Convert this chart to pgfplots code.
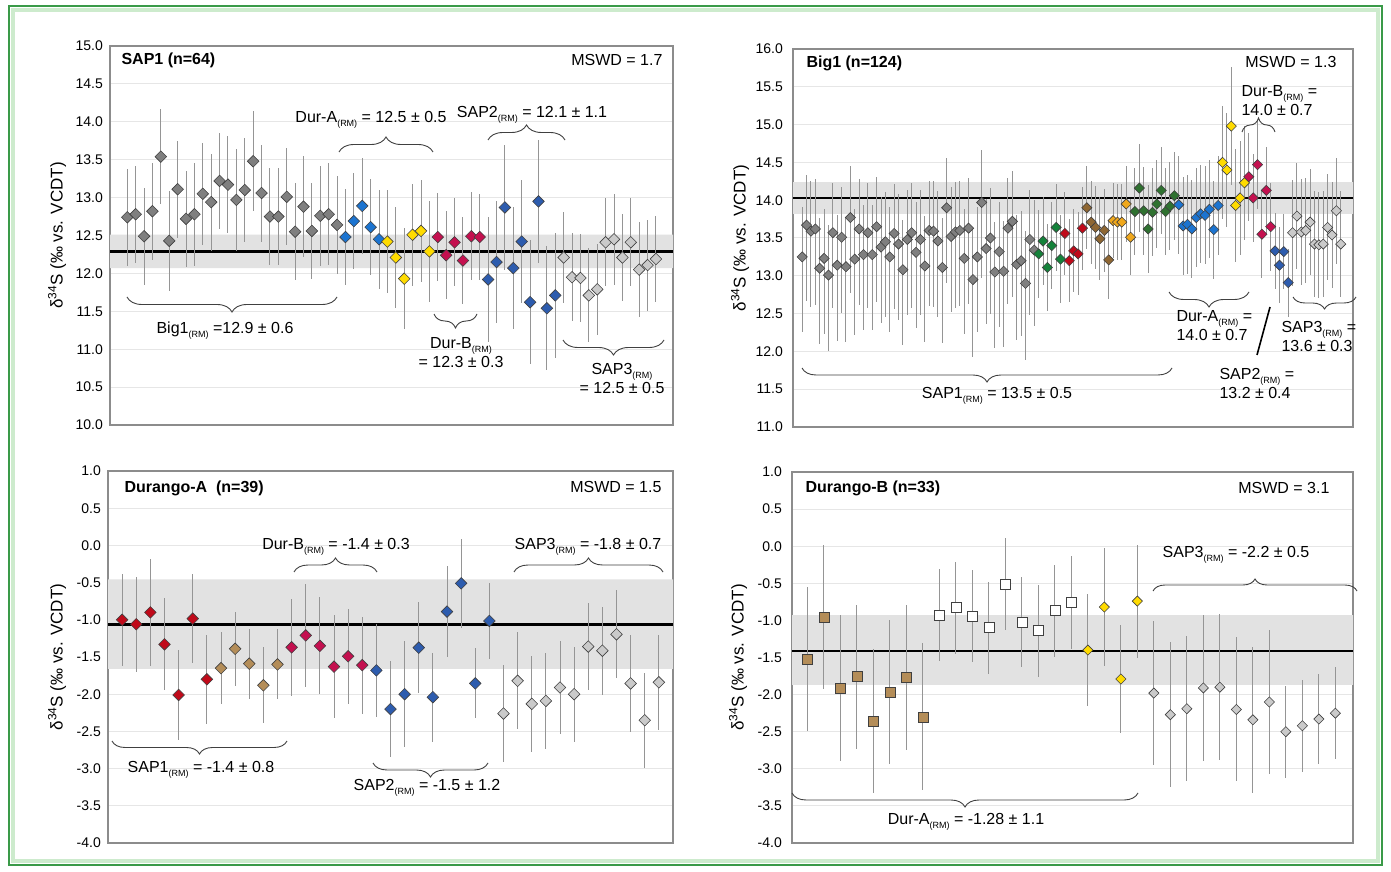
\documentclass[border=0pt]{standalone}
\usepackage{fontspec}
\setmainfont{Liberation Sans}
\usepackage{pgfplots}
\usepackage{pgfplotstable}
\pgfplotsset{compat=1.18}
\usetikzlibrary{decorations.pathreplacing}

\definecolor{cgray}{HTML}{7F7F7F}
\definecolor{cblue}{HTML}{1C74D0}
\definecolor{cyellow}{HTML}{FFDB00}
\definecolor{ccrimson}{HTML}{C4104F}
\definecolor{cdblue}{HTML}{2D5CAE}
\definecolor{clgray}{HTML}{CACACA}
\definecolor{cgreen}{HTML}{14823A}
\definecolor{cgreen2}{HTML}{2F7130}
\definecolor{cred}{HTML}{C00A1A}
\definecolor{cbrown}{HTML}{8E6632}
\definecolor{corange}{HTML}{F0A81C}
\definecolor{ctan}{HTML}{B48D58}
\definecolor{barc}{HTML}{959595}
\definecolor{bandc}{HTML}{E2E2E2}
\definecolor{gridc}{HTML}{E6E6E6}
\definecolor{boxc}{HTML}{8C8C8C}
\definecolor{framec}{HTML}{3A9A48}
\definecolor{framel}{HTML}{CDEBCD}
\definecolor{outc}{HTML}{404040}

\newcommand{\RM}{\raisebox{-4pt}{\fontsize{9}{9}\selectfont(RM)}}
\newcommand{\af}{\fontsize{16}{19}\selectfont}
\newcommand{\ebars}[1]{\addplot[only marks, mark=none, forget plot, error bars/.cd, y dir=both, y explicit, error mark=none, error bar style={draw=barc, line width=1pt}] table[x=x,y=y,y error=e]{#1};}
\newcommand{\dmk}[3]{\addplot[only marks, mark=square*, mark size=#3, mark options={rotate=45, fill=#2, draw=outc, line width=0.6pt}, forget plot] table[x=x,y=y]{#1};}
\newcommand{\smk}[3]{\addplot[only marks, mark=square*, mark size=#3, mark options={fill=#2, draw=outc, line width=0.7pt}, forget plot] table[x=x,y=y]{#1};}

\tikzset{brc/.style={decorate, decoration={brace, amplitude=#1}, draw=outc, line width=0.9pt}}

\pgfplotsset{
  panel/.style={
    scale only axis, anchor=south west,
    xtick=\empty,
    ymajorgrids, grid style={draw=gridc, line width=1pt},
    axis line style={draw=boxc, line width=1.1pt},
    major tick length=0pt,
    tick label style={font=\fontsize{14}{14}\selectfont, text=black},
    yticklabel style={/pgf/number format/fixed, /pgf/number format/fixed zerofill, /pgf/number format/precision=1, /pgf/number format/assume math mode=true, inner sep=0pt, xshift=-7pt},
    ylabel={δ\textsuperscript{34}S (‰ vs. VCDT)},
    ylabel style={font=\fontsize{17}{17}\selectfont, anchor=center},
  },
}

% ---------------- Panel A: SAP1 ----------------
\pgfplotstableread{
x y e
1 12.74 0.64
2 12.78 0.64
3 12.49 0.64
4 12.82 0.64
5 13.54 0.63
6 12.43 0.66
7 13.11 0.64
8 12.72 0.63
9 12.78 0.68
10 13.05 0.67
11 12.94 0.64
12 13.22 0.63
13 13.17 0.64
14 12.97 0.67
15 13.10 0.68
16 13.48 0.66
17 13.06 0.64
18 12.75 0.64
19 12.75 0.64
20 13.01 0.64
21 12.55 0.64
22 12.88 0.67
23 12.56 0.63
24 12.76 0.66
25 12.78 0.67
26 12.64 0.65
}\pAgray
\pgfplotstableread{
x y e
27 12.48 0.63
28 12.69 0.63
29 12.89 0.63
30 12.61 0.63
31 12.45 0.65
}\pAblue
\pgfplotstableread{
x y e
32 12.42 0.68
33 12.21 0.67
34 11.93 0.67
35 12.51 0.67
36 12.56 0.67
37 12.29 0.67
}\pAyellow
\pgfplotstableread{
x y e
38 12.48 0.575
39 12.24 0.58
40 12.41 0.58
41 12.17 0.57
42 12.49 0.58
43 12.48 0.57
}\pAcrimson
\pgfplotstableread{
x y e
44 11.92 0.82
45 12.15 0.80
46 12.87 0.82
47 12.07 0.80
48 12.42 0.81
49 11.62 0.82
50 12.95 0.81
51 11.54 0.82
52 11.71 0.82
}\pAdblue
\pgfplotstableread{
x y e
53 12.21 0.60
54 11.95 0.58
55 11.94 0.58
56 11.71 0.62
57 11.79 0.60
58 12.41 0.58
59 12.45 0.60
60 12.21 0.57
61 12.41 0.58
62 12.05 0.63
63 12.11 0.60
64 12.19 0.57
}\pAlgray

% ---------------- Panel B: Big1 ----------------
\pgfplotstableread{
x y ep em
1 13.25 0.66 1.0
2 13.67 0.66 1.0
3 13.59 0.66 1.0
4 13.62 0.66 1.0
5 13.10 0.66 1.0
6 13.23 0.66 1.0
7 13.01 0.66 1.0
8 13.57 0.66 1.0
9 13.14 0.66 1.0
10 13.51 0.66 1.0
11 13.12 0.66 1.0
12 13.77 0.68 1.0
13 13.22 0.66 1.0
14 13.62 0.66 1.0
15 13.28 0.66 1.0
16 13.57 0.66 1.0
17 13.28 0.66 1.0
18 13.65 0.66 1.0
19 13.38 0.66 1.0
20 13.45 0.66 1.0
21 13.25 0.66 1.0
22 13.56 0.66 1.0
23 13.42 0.66 1.0
24 13.08 0.66 1.0
25 13.48 0.66 1.0
26 13.57 0.66 1.0
27 13.31 0.66 1.0
28 13.48 0.66 1.0
29 13.13 0.66 1.0
30 13.60 0.66 1.0
31 13.59 0.66 1.0
32 13.46 0.66 1.0
33 13.11 0.66 1.0
34 13.90 0.66 1.0
35 13.52 0.66 1.0
36 13.58 0.66 1.0
37 13.60 0.66 1.0
38 13.23 0.66 1.0
39 13.63 0.66 1.0
40 12.95 0.68 1.02
41 13.25 0.66 1.0
42 13.97 0.69 1.0
43 13.36 0.66 1.0
44 13.50 0.66 1.0
45 13.05 0.66 1.0
46 13.32 0.66 1.0
47 13.06 0.66 1.0
48 13.63 0.66 1.0
49 13.72 0.66 1.0
50 13.15 0.66 1.0
51 13.20 0.66 1.0
52 12.90 0.69 1.02
53 13.48 0.66 1.0
54 13.34 0.66 1.0
}\pBgray
\pgfplotstableread{
x y e
55 13.29 0.58
56 13.46 0.58
57 13.11 0.58
58 13.40 0.58
59 13.64 0.58
60 13.22 0.58
}\pBgreen
\pgfplotstableread{
x y e
61 13.56 0.55
62 13.20 0.55
63 13.33 0.55
64 13.29 0.55
65 13.63 0.55
}\pBred
\pgfplotstableread{
x y e
66 13.90 0.55
67 13.71 0.55
68 13.64 0.55
69 13.49 0.55
70 13.60 0.55
71 13.21 0.52
}\pBbrown
\pgfplotstableread{
x y e
72 13.73 0.50
73 13.71 0.50
74 13.71 0.50
75 13.95 0.50
76 13.51 0.50
}\pBorange
\pgfplotstableread{
x y e
77 13.85 0.58
78 14.16 0.58
79 13.86 0.58
80 13.62 0.58
81 13.84 0.58
82 13.95 0.58
83 14.13 0.58
84 13.85 0.58
85 13.92 0.58
86 14.06 0.58
}\pBgreentwo
\pgfplotstableread{
x y e
87 13.94 0.65
88 13.66 0.65
89 13.68 0.65
90 13.62 0.65
91 13.77 0.65
92 13.82 0.65
93 13.80 0.65
94 13.88 0.65
95 13.61 0.65
96 13.93 0.65
}\pBblue
\pgfplotstableread{
x y e
97 14.50 0.75
98 14.40 0.75
99 14.98 0.78
100 13.93 0.75
101 14.03 0.75
102 14.23 0.75
}\pByellow
\pgfplotstableread{
x y e
103 14.31 0.58
104 14.03 0.58
105 14.47 0.58
106 13.55 0.58
107 14.13 0.58
108 13.65 0.58
}\pBcrimson
\pgfplotstableread{
x y e
109 13.33 0.50
110 13.14 0.50
111 13.32 0.50
112 12.91 0.45
}\pBdblue
\pgfplotstableread{
x y e
113 13.57 0.70
114 13.79 0.70
115 13.58 0.70
116 13.60 0.70
117 13.71 0.70
118 13.42 0.70
119 13.41 0.70
120 13.42 0.70
121 13.64 0.70
122 13.54 0.70
123 13.86 0.70
124 13.42 0.70
}\pBlgray

% ---------------- Panel C: Durango-A ----------------
\pgfplotstableread{
x y e
1 -1.00 0.62
2 -1.06 0.64
3 -0.90 0.72
4 -1.33 0.62
5 -2.01 0.60
6 -0.985 0.60
7 -1.80 0.60
}\pCred
\pgfplotstableread{
x y e
8 -1.65 0.48
9 -1.39 0.50
10 -1.59 0.47
11 -1.88 0.51
12 -1.60 0.47
}\pCtan
\pgfplotstableread{
x y e
13 -1.37 0.65
14 -1.21 0.69
15 -1.35 0.65
16 -1.63 0.69
17 -1.49 0.64
18 -1.61 0.65
}\pCcrimson
\pgfplotstableread{
x y e
19 -1.68 0.62
20 -2.20 0.65
21 -2.00 0.71
22 -1.375 0.61
23 -2.04 0.60
24 -0.89 0.61
25 -0.51 0.60
26 -1.855 0.47
27 -1.015 0.51
}\pCblue
\pgfplotstableread{
x y e
28 -2.26 0.65
29 -1.82 0.65
30 -2.13 0.65
31 -2.09 0.64
32 -1.91 0.62
33 -2.00 0.64
34 -1.36 0.59
35 -1.415 0.59
36 -1.195 0.59
37 -1.855 0.65
38 -2.35 0.64
39 -1.84 0.64
}\pClgray

% ---------------- Panel D: Durango-B ----------------
\pgfplotstableread{
x y e
1 -1.52 0.97
2 -0.96 0.97
3 -1.91 0.98
4 -1.76 0.97
5 -2.36 0.97
6 -1.97 0.97
7 -1.77 0.98
8 -2.30 0.99
}\pDtan
\pgfplotstableread{
x y e
9 -0.93 0.62
10 -0.83 0.62
11 -0.94 0.62
12 -1.10 0.62
13 -0.51 0.62
14 -1.02 0.61
15 -1.14 0.62
16 -0.87 0.62
17 -0.76 0.63
}\pDwhite
\pgfplotstableread{
x y e
18 -1.40 0.75
19 -0.82 0.80
20 -1.79 0.73
21 -0.74 0.76
}\pDyellow
\pgfplotstableread{
x y e
22 -1.98 0.97
23 -2.27 0.98
24 -2.19 0.98
25 -1.91 0.98
26 -1.90 0.98
27 -2.20 0.97
28 -2.34 0.98
29 -2.10 0.97
30 -2.50 0.62
31 -2.42 0.62
32 -2.33 0.61
33 -2.25 0.62
}\pDlgray

\begin{document}
\begin{tikzpicture}[x=1pt,y=1pt]
\useasboundingbox (0,0) rectangle (1391,871);
\fill[white] (0,0) rectangle (1391,871);
\draw[draw=framel, line width=4pt] (13,10) rectangle (1378,861);
\draw[draw=framec, line width=2.2pt] (9,6) rectangle (1382,865);

% ===== Panel A =====
\begin{axis}[panel, at={(110pt,446pt)}, width=563pt, height=379pt,
  xmin=-1.06, xmax=66.03, ymin=10, ymax=15,
  ytick={10,10.5,11,11.5,12,12.5,13,13.5,14,14.5,15},
  ylabel style={at={(axis description cs:-0.094,0.5)}}]
\addplot[fill=bandc, draw=none, forget plot] coordinates {(-1.06,12.07) (66.03,12.07) (66.03,12.51) (-1.06,12.51) (-1.06,12.07)};
\addplot[black, line width=2.6pt, forget plot] coordinates {(-1.06,12.29) (66.03,12.29)};
\ebars\pAgray \ebars\pAblue \ebars\pAyellow \ebars\pAcrimson \ebars\pAdblue \ebars\pAlgray
\dmk\pAgray{cgray}{4.1}
\dmk\pAblue{cblue}{4.1}
\dmk\pAyellow{cyellow}{4.1}
\dmk\pAcrimson{ccrimson}{4.1}
\dmk\pAdblue{cdblue}{4.1}
\dmk\pAlgray{clgray}{4.1}
\end{axis}

% ===== Panel B =====
\begin{axis}[panel, at={(793pt,444pt)}, width=560pt, height=378pt,
  xmin=-1.1, xmax=126.8, ymin=11, ymax=16,
  ytick={11,11.5,12,12.5,13,13.5,14,14.5,15,15.5,16},
  yticklabel style={xshift=-3pt},
  ylabel style={at={(axis description cs:-0.0946,0.5)}}]
\addplot[fill=bandc, draw=none, forget plot] coordinates {(-1.1,13.82) (126.8,13.82) (126.8,14.24) (-1.1,14.24) (-1.1,13.82)};
\addplot[black, line width=2.6pt, forget plot] coordinates {(-1.1,14.03) (126.8,14.03)};
\addplot[only marks, mark=none, forget plot, error bars/.cd, y dir=both, y explicit, error mark=none, error bar style={draw=barc, line width=1pt}] table[x=x,y=y,y error plus=ep,y error minus=em]{\pBgray};
\ebars\pBgreen \ebars\pBred \ebars\pBbrown \ebars\pBorange \ebars\pBgreentwo \ebars\pBblue \ebars\pByellow \ebars\pBcrimson \ebars\pBdblue \ebars\pBlgray
\dmk\pBgray{cgray}{3.6}
\dmk\pBgreen{cgreen}{3.6}
\dmk\pBred{cred}{3.6}
\dmk\pBbrown{cbrown}{3.6}
\dmk\pBorange{corange}{3.6}
\dmk\pBgreentwo{cgreen2}{3.6}
\dmk\pBblue{cblue}{3.6}
\dmk\pByellow{cyellow}{3.6}
\dmk\pBcrimson{ccrimson}{3.6}
\dmk\pBdblue{cdblue}{3.6}
\dmk\pBlgray{clgray}{3.6}
\end{axis}

% ===== Panel C =====
\begin{axis}[panel, at={(108pt,28pt)}, width=565pt, height=372pt,
  xmin=0, xmax=40, ymin=-4, ymax=1,
  ytick={-4,-3.5,-3,-2.5,-2,-1.5,-1,-0.5,0,0.5,1},
  ylabel style={at={(axis description cs:-0.090,0.5)}}]
\addplot[fill=bandc, draw=none, forget plot] coordinates {(0,-1.66) (40,-1.66) (40,-0.455) (0,-0.455) (0,-1.66)};
\addplot[black, line width=2.6pt, forget plot] coordinates {(0,-1.06) (40,-1.06)};
\ebars\pCred \ebars\pCtan \ebars\pCcrimson \ebars\pCblue \ebars\pClgray
\dmk\pCred{cred}{4.1}
\dmk\pCtan{ctan}{4.1}
\dmk\pCcrimson{ccrimson}{4.1}
\dmk\pCblue{cdblue}{4.1}
\dmk\pClgray{clgray}{4.1}
\end{axis}

% ===== Panel D =====
\begin{axis}[panel, at={(792pt,28pt)}, width=561pt, height=371pt,
  xmin=0.07, xmax=34.07, ymin=-4, ymax=1,
  ytick={-4,-3.5,-3,-2.5,-2,-1.5,-1,-0.5,0,0.5,1},
  yticklabel style={xshift=-3pt},
  ylabel style={at={(axis description cs:-0.096,0.5)}}]
\addplot[fill=bandc, draw=none, forget plot] coordinates {(0.07,-1.87) (34.07,-1.87) (34.07,-0.93) (0.07,-0.93) (0.07,-1.87)};
\addplot[black, line width=2.6pt, forget plot] coordinates {(0.07,-1.41) (34.07,-1.41)};
\ebars\pDtan \ebars\pDwhite \ebars\pDyellow \ebars\pDlgray
\smk\pDtan{ctan}{5.0}
\smk\pDwhite{white}{5.0}
\dmk\pDyellow{cyellow}{3.6}
\dmk\pDlgray{clgray}{3.6}
\end{axis}

% ===== Annotations Panel A =====
\node[font=\af\bfseries, anchor=west] at (118,811) {SAP1 (n=64)};
\node[font=\af, anchor=east] at (666,811) {MSWD = 1.7};
\node[font=\af] at (371,751) {Dur-A\RM{} = 12.5 ± 0.5};
\draw[brc=15pt] (339,719) -- (433,719);
\node[font=\af] at (532,756) {SAP2\RM{} = 12.1 ± 1.1};
\draw[brc=15pt] (488,731) -- (565,731);
\draw[brc=15pt] (337,574) -- (127,574);
\node[font=\af] at (225,540) {Big1\RM{} =12.9 ± 0.6};
\draw[brc=14pt] (477,557) -- (434,557);
\node[font=\af, align=center] at (461,518) {Dur-B\RM\\= 12.3 ± 0.3};
\draw[brc=15pt] (664,531) -- (563,531);
\node[font=\af, align=center] at (622,493) {SAP3\RM\\= 12.5 ± 0.5};

% ===== Annotations Panel B =====
\node[font=\af\bfseries, anchor=west] at (803,808) {Big1 (n=124)};
\node[font=\af, anchor=east] at (1340,809) {MSWD = 1.3};
\draw[brc=14pt] (1242,739) -- (1275,739);
\node[font=\af, align=left, anchor=west] at (1238,770) {Dur-B\RM{} =\\14.0 ± 0.7};
\draw[brc=15pt] (1249,579) -- (1169,579);
\node[font=\af, align=left, anchor=west] at (1173,545) {Dur-A\RM{} =\\14.0 ± 0.7};
\draw[black, line width=1.6pt] (1270,564) -- (1257,516);
\draw[brc=12pt] (1356,574) -- (1293,574);
\node[font=\af, align=left, anchor=west] at (1278,535) {SAP3\RM{} =\\13.6 ± 0.3};
\node[font=\af, align=left, anchor=west] at (1216,488) {SAP2\RM{} =\\13.2 ± 0.4};
\draw[brc=14pt] (1172,503) -- (802,503);
\node[font=\af] at (997,475) {SAP1\RM{} = 13.5 ± 0.5};

% ===== Annotations Panel C =====
\node[font=\af\bfseries, anchor=west] at (121,383) {Durango-A~ (n=39)};
\node[font=\af, anchor=east] at (665,384) {MSWD = 1.5};
\node[font=\af] at (336,324) {Dur-B\RM{} = -1.4 ± 0.3};
\draw[brc=14pt] (294,299) -- (377,299);
\draw[brc=13pt] (287,130) -- (112,130);
\node[font=\af] at (201,101) {SAP1\RM{} = -1.4 ± 0.8};
\draw[brc=14pt] (488,108) -- (373,108);
\node[font=\af] at (427,83) {SAP2\RM{} = -1.5 ± 1.2};
\node[font=\af] at (588,324) {SAP3\RM{} = -1.8 ± 0.7};
\draw[brc=14pt] (514,299) -- (663,299);

% ===== Annotations Panel D =====
\node[font=\af\bfseries, anchor=west] at (802,383) {Durango-B (n=33)};
\node[font=\af, anchor=east] at (1333,383) {MSWD = 3.1};
\node[font=\af] at (1236,316) {SAP3\RM{} = -2.2 ± 0.5};
\draw[brc=12pt] (1153,280) -- (1357,280);
\draw[brc=14pt] (1138,78) -- (792,78);
\node[font=\af] at (966,49) {Dur-A\RM{} = -1.28 ± 1.1};
\end{tikzpicture}
\end{document}
